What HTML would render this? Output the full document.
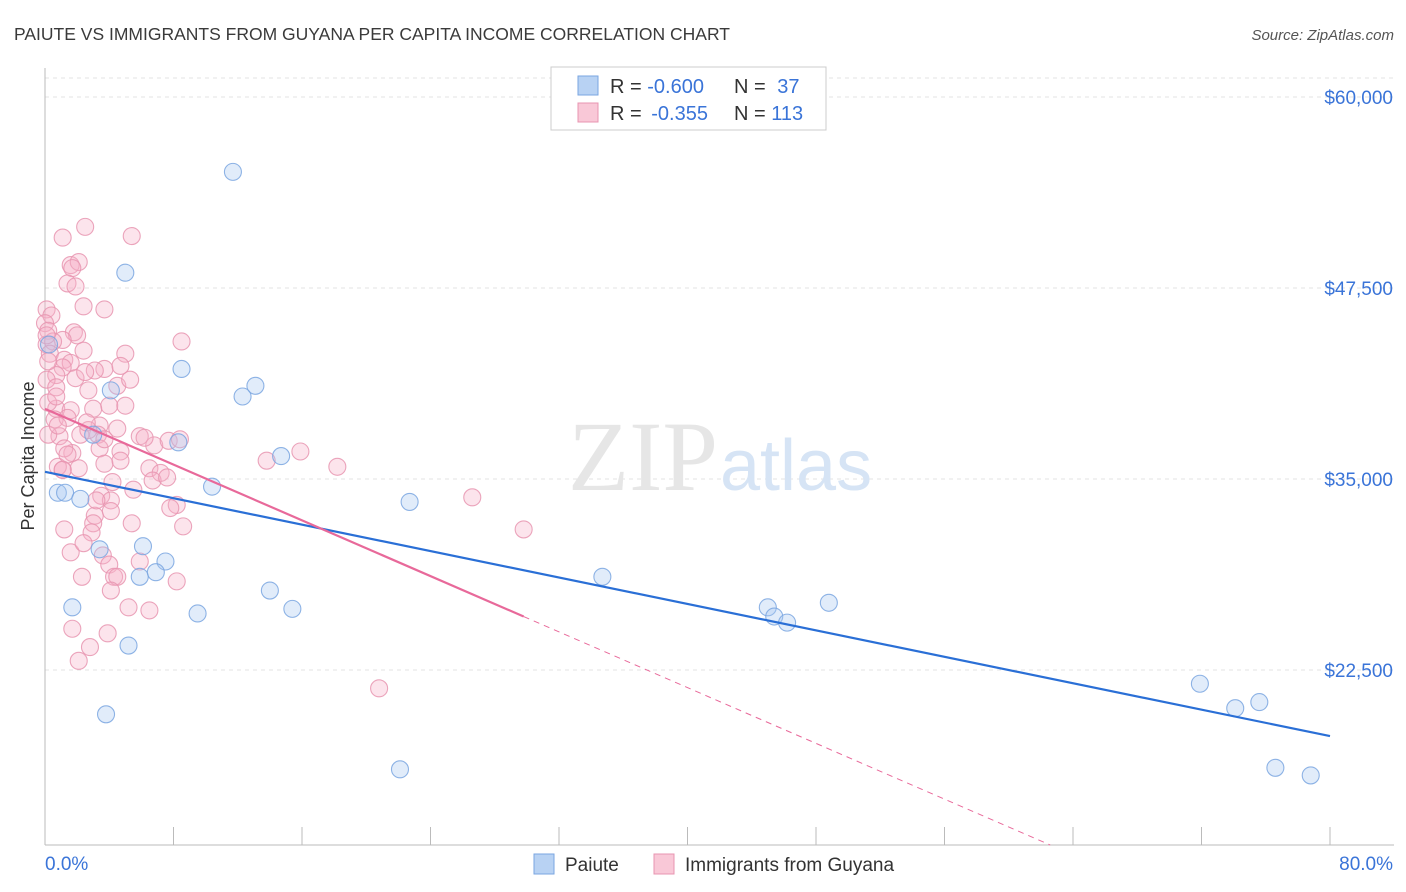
<!DOCTYPE html>
<html><head><meta charset="utf-8">
<style>
body{margin:0;background:#fff;font-family:"Liberation Sans",sans-serif;}
#wrap{position:relative;width:1406px;height:892px;overflow:hidden;}
</style></head>
<body>
<div id="wrap">
<svg id="chart" width="1406" height="892" xmlns="http://www.w3.org/2000/svg">
<text x="14" y="40" font-size="17.5" fill="#3a3a3a">PAIUTE VS IMMIGRANTS FROM GUYANA PER CAPITA INCOME CORRELATION CHART</text>
<text x="1394" y="40" font-size="15" fill="#555" font-style="italic" text-anchor="end">Source: ZipAtlas.com</text>
<text x="34" y="456" font-size="18" fill="#333" transform="rotate(-90 34 456)" text-anchor="middle">Per Capita Income</text>
<g id="grid"></g>
<text x="718" y="490" font-size="100" fill="#e6e6e6" font-family="Liberation Serif,serif" text-anchor="end">ZIP</text>
<text x="720" y="490" font-size="72" fill="#d6e4f5">atlas</text>
<g id="marks"></g>
<g id="lines"></g>
<text x="45" y="870" font-size="19" fill="#3a74d8">0.0%</text>
<text x="1393" y="870" font-size="19" fill="#3a74d8" text-anchor="end">80.0%</text>
<g>
<rect x="551" y="67" width="275" height="63" fill="#fff" stroke="#ccc"/>
<rect x="578" y="76" width="20" height="19" fill="#b8d2f3" stroke="#7aa6e0"/>
<rect x="578" y="103" width="20" height="19" fill="#f9c8d7" stroke="#e895b0"/>
<text x="610" y="93" font-size="20" fill="#333">R = <tspan fill="#3a74d8">-0.600</tspan></text>
<text x="734" y="93" font-size="20" fill="#333">N = <tspan fill="#3a74d8" dx="6">37</tspan></text>
<text x="610" y="120" font-size="20" fill="#333">R = <tspan fill="#3a74d8" dx="4">-0.355</tspan></text>
<text x="734" y="120" font-size="20" fill="#333">N = <tspan fill="#3a74d8">113</tspan></text>
</g>
<g>
<rect x="534" y="854" width="20" height="20" fill="#b8d2f3" stroke="#7aa6e0"/>
<text x="565" y="871" font-size="19" fill="#333">Paiute</text>
<rect x="654" y="854" width="20" height="20" fill="#f9c8d7" stroke="#e895b0"/>
<text x="685" y="871" font-size="19" fill="#333">Immigrants from Guyana</text>
</g>
</svg>
</div>
<script>
const yTicks=[60000,47500,35000,22500];
const yTickLabels=["$60,000","$47,500","$35,000","$22,500"];
const xTicks=[0,8,16,24,32,40,48,56,64,72,80];
const paiuteX=[11.7,5.0,8.5,13.1,12.3,4.1,8.3,3.0,14.7,0.8,1.25,2.2,10.4,22.7,6.1,3.4,7.5,5.9,6.9,34.7,14.0,1.7,9.5,15.4,45.0,45.4,46.2,48.8,5.2,3.8,22.1,71.9,74.1,75.6,76.6,78.8,0.25];
const paiuteY=[55100,48500,42200,41100,40400,40800,37400,37900,36500,34100,34100,33700,34500,33500,30600,30400,29600,28600,28900,28600,27700,26600,26200,26500,26600,26000,25600,26900,24100,19600,16000,21600,20000,20400,16100,15600,43800];
const guyanaX=[2.5,1.1,5.4,1.6,2.1,1.7,1.4,1.9,2.4,3.7,0.1,0.4,0.0,0.2,1.8,2.0,1.1,0.1,0.5,8.5,2.4,5.0,0.3,1.2,1.6,3.7,1.1,0.7,1.9,0.1,4.5,5.3,2.7,0.7,4.0,5.0,3.0,0.7,1.6,0.6,3.4,4.5,0.9,3.3,2.2,5.9,6.8,7.7,6.2,3.4,4.7,1.7,1.2,13.8,15.9,18.2,3.7,4.7,6.5,7.2,1.1,6.7,7.6,5.5,3.5,4.1,3.1,4.1,8.2,3.0,5.4,8.6,1.2,2.9,1.6,2.4,3.6,4.0,4.3,2.3,4.5,8.2,5.2,6.5,1.7,3.9,2.8,2.1,20.8,26.6,29.8,0.2,0.8,0.2,1.4,4.7,3.1,0.7,2.5,3.7,2.7,1.4,5.9,4.1,3.2,2.1,0.8,0.2,2.6,4.2,1.1,0.1,8.4,7.8];
const guyanaY=[51500,50800,50900,49000,49200,48800,47800,47600,46300,46100,46100,45700,45200,44700,44600,44400,44100,43800,44000,44000,43400,43200,43200,42800,42600,42200,42300,41800,41600,41500,41100,41500,40800,41000,39800,39800,39600,39600,39500,38900,38500,38300,37800,37900,37900,37800,37200,37500,37700,37000,36800,36700,37000,36200,36800,35800,36000,36200,35700,35400,35600,34900,35100,34300,33900,33600,32600,32900,33300,32100,32100,31900,31700,31500,30200,30800,30000,29400,28600,28600,28600,28300,26600,26400,25200,24900,24000,23100,21300,33800,31700,37900,35800,40000,39000,42400,42100,40400,42000,37600,38200,36600,29600,27700,33600,35700,38500,42700,38700,34800,35600,44400,37600,33100];

const NS="http://www.w3.org/2000/svg";
const X0=45,X1=1330,YT=97,YB=845;
function xs(v){return X0+(v/80)*(X1-X0);}
function ys(v){return YT+(60000-v)/12500*191;}
function mk(tag,attrs,parent){const e=document.createElementNS(NS,tag);for(const k in attrs)e.setAttribute(k,attrs[k]);parent.appendChild(e);return e;}
const grid=document.getElementById('grid'),marks=document.getElementById('marks'),lines=document.getElementById('lines');

let g=mk('line',{x1:X0,x2:1394,y1:78,y2:78,stroke:'#e3e3e3','stroke-dasharray':'4,4'},grid);


yTicks.forEach((t,i)=>{
  const l=mk('line',{x1:X0,x2:1394,y1:ys(t),y2:ys(t),stroke:'#e3e3e3','stroke-dasharray':'4,4'},grid);
  
  
  const tx=mk('text',{x:1393,y:ys(t)+7,'font-size':19,fill:'#3a74d8','text-anchor':'end'},grid);
  tx.textContent=yTickLabels[i];
  
  
});
let ax=mk('line',{x1:X0,x2:X0,y1:68,y2:YB,stroke:'#bbb'},grid);


let bx=mk('line',{x1:X0,x2:1394,y1:YB,y2:YB,stroke:'#bbb'},grid);


xTicks.forEach(t=>{
  const l=mk('line',{x1:xs(t),x2:xs(t),y1:827,y2:YB,stroke:'#bbb'},grid);
  
  
});

function dots(X,Y,fill,stroke,name){
  X.forEach((x,i)=>{
    const c=mk('circle',{cx:xs(x),cy:ys(Y[i]),r:8.5,fill:fill,'fill-opacity':0.35,stroke:stroke,'stroke-opacity':0.85,'stroke-width':1.1},marks);
    
    
  });
}
dots(guyanaX,guyanaY,'#f5b3c8','#e895b0','guyana-point');
dots(paiuteX,paiuteY,'#a9c8f0','#7aa6e0','paiute-point');

function fit(X,Y){const n=X.length;let mx=0,my=0;for(let i=0;i<n;i++){mx+=X[i];my+=Y[i];}mx/=n;my/=n;let sxy=0,sxx=0;for(let i=0;i<n;i++){sxy+=(X[i]-mx)*(Y[i]-my);sxx+=(X[i]-mx)**2;}const b=sxy/sxx;return [my-b*mx,b];}
const [ab,bb]=fit(paiuteX,paiuteY);
let bl=mk('line',{x1:xs(0),y1:ys(ab),x2:xs(80),y2:ys(ab+bb*80),stroke:'#2a6fd6','stroke-width':2.2},lines);


const [ap,bp]=fit(guyanaX,guyanaY);
const pmax=Math.max(...guyanaX);
let pl=mk('line',{x1:xs(0),y1:ys(ap),x2:xs(pmax),y2:ys(ap+bp*pmax),stroke:'#e8699a','stroke-width':2.2},lines);


const vBottom=60000-(YB-YT)/191*12500;
let xEnd=bp<0?Math.min(80,(vBottom-ap)/bp):80;
let pd=mk('line',{x1:xs(pmax),y1:ys(ap+bp*pmax),x2:xs(xEnd),y2:ys(ap+bp*xEnd),stroke:'#e8699a','stroke-width':1,'stroke-dasharray':'6,5'},lines);


</script>
</body></html>
